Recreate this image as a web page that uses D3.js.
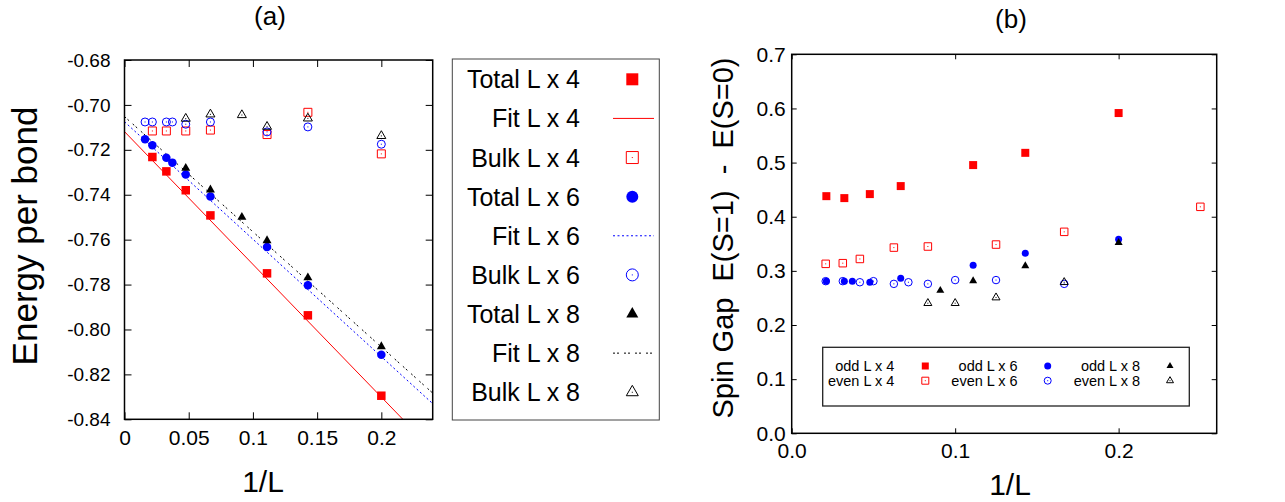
<!DOCTYPE html>
<html><head><meta charset="utf-8">
<script src="https://cdn.jsdelivr.net/npm/d3@7"></script>
<style>
body{margin:0;background:#fff;}
text{font-family:"Liberation Sans",Arial,Helvetica,sans-serif;fill:#000;}
</style></head><body>
<svg id="c" width="1285" height="502"></svg>
<script>
// ---------- Panel (a) data ----------
const aXTicks = [0, 0.05, 0.1, 0.15, 0.2];
const aXTickLabels = ["0", "0.05", "0.1", "0.15", "0.2"];
const aYTicks = [-0.68, -0.70, -0.72, -0.74, -0.76, -0.78, -0.80, -0.82, -0.84];
const aYTickLabels = ["-0.68", "-0.70", "-0.72", "-0.74", "-0.76", "-0.78", "-0.80", "-0.82", "-0.84"];

const total4X = [0.0217, 0.0326, 0.0477, 0.0669, 0.111, 0.1428, 0.2];
const total4Y = [-0.7232, -0.7296, -0.7380, -0.7492, -0.7750, -0.7937, -0.8295];
const total6X = [0.016, 0.0217, 0.0326, 0.0373, 0.0477, 0.0669, 0.111, 0.1428, 0.2];
const total6Y = [-0.7153, -0.7180, -0.7235, -0.7257, -0.7310, -0.7408, -0.7633, -0.7803, -0.8113];
const total8X = [0.0477, 0.0669, 0.0914, 0.111, 0.1428, 0.2];
const total8Y = [-0.7282, -0.7378, -0.7500, -0.7604, -0.7769, -0.8076];

const bulk4X = [0.0217, 0.0326, 0.0477, 0.0669, 0.111, 0.1428, 0.2];
const bulk4Y = [-0.7116, -0.7116, -0.7116, -0.7112, -0.7132, -0.7033, -0.7218];
const bulk6X = [0.016, 0.0217, 0.0326, 0.0373, 0.0477, 0.0669, 0.111, 0.1428, 0.2];
const bulk6Y = [-0.7076, -0.7076, -0.7076, -0.7076, -0.7086, -0.7076, -0.7120, -0.7098, -0.7175];
const bulk8X = [0.0477, 0.0669, 0.0914, 0.111, 0.1428, 0.2];
const bulk8Y = [-0.7061, -0.7042, -0.7045, -0.7097, -0.7060, -0.7138];

// linear fits E = a + b*(1/L) for L x 4, 6, 8
const fitIntercept = [-0.7119, -0.7075, -0.7052];
const fitSlope = [-0.591, -0.523, -0.513];

const aLegendLabels = ["Total L x 4", "Fit L x 4", "Bulk L x 4", "Total L x 6", "Fit L x 6", "Bulk L x 6", "Total L x 8", "Fit L x 8", "Bulk L x 8"];

// ---------- Panel (b) data ----------
const bXTicks = [0, 0.1, 0.2];
const bXTickLabels = ["0.0", "0.1", "0.2"];
const bYTicks = [0, 0.1, 0.2, 0.3, 0.4, 0.5, 0.6, 0.7];
const bYTickLabels = ["0.0", "0.1", "0.2", "0.3", "0.4", "0.5", "0.6", "0.7"];

const odd4X = [0.0212, 0.0322, 0.0478, 0.0667, 0.111, 0.1429, 0.2];
const odd4Y = [0.438, 0.4344, 0.4418, 0.4566, 0.4954, 0.518, 0.5915];
const even4X = [0.0208, 0.03125, 0.0417, 0.0625, 0.0833, 0.125, 0.1667, 0.25];
const even4Y = [0.313, 0.3142, 0.322, 0.343, 0.345, 0.3486, 0.3721, 0.4183];
const odd6X = [0.0212, 0.0322, 0.0371, 0.0478, 0.0667, 0.111, 0.1429, 0.2];
const odd6Y = [0.281, 0.281, 0.281, 0.279, 0.2865, 0.3105, 0.3327, 0.3586];
const even6X = [0.0208, 0.03125, 0.0417, 0.05, 0.0625, 0.0714, 0.0833, 0.1, 0.125, 0.1667];
const even6Y = [0.281, 0.281, 0.279, 0.281, 0.276, 0.279, 0.276, 0.283, 0.283, 0.276];
const odd8X = [0.0909, 0.111, 0.1429, 0.2];
const odd8Y = [0.2637, 0.2815, 0.3093, 0.352];
const even8X = [0.0833, 0.1, 0.125, 0.1667];
const even8Y = [0.2403, 0.2403, 0.2507, 0.279];

const bLegendLabels = [["odd L x 4", "odd L x 6", "odd L x 8"], ["even L x 4", "even L x 6", "even L x 8"]];

// ---------- drawing ----------
const RED = "#ff0000", BLUE = "#0000ff", BLACK = "#000000";
const svg = d3.select("#c");
svg.append("rect").attr("width", 1285).attr("height", 502).attr("fill", "#fff");

const symType = {square: d3.symbolSquare, circle: d3.symbolCircle, triangle: d3.symbolTriangle};
function marker(g, shape, cx, cy, s, color, filled) {
  let area;
  if (shape === "square") area = s * s;
  else if (shape === "circle") area = Math.PI * s * s / 4;
  else area = s * s * Math.sqrt(3) / 4;
  g.append("path")
    .attr("d", d3.symbol().type(symType[shape]).size(area)())
    .attr("transform", `translate(${cx},${cy})`)
    .attr("fill", filled ? color : "none")
    .attr("stroke", color)
    .attr("stroke-width", filled ? 0 : 1);
  if (!filled) {
    g.append("rect").attr("x", cx - 0.5).attr("y", cy - 0.5).attr("width", 1).attr("height", 1).attr("fill", color);
  }
}
function series(g, xs, ys, sx, sy, shape, s, color, filled) {
  xs.forEach((v, i) => marker(g, shape, sx(v), sy(ys[i]), s, color, filled));
}
function frameAxes(g, sx, sy, xt, xl, yt, yl, tick, xpad, ypad, xfs, yfs) {
  const [x0, x1] = sx.range(), [y0, y1] = sy.range();
  const fx = v => xl[xt.indexOf(v)];
  const fy = v => yl[yt.indexOf(v)];
  const bot = g.append("g").attr("transform", `translate(0,${y0})`)
    .call(d3.axisBottom(sx).tickValues(xt).tickFormat(fx).tickSize(-tick).tickPadding(xpad));
  bot.selectAll("text").attr("font-size", xfs).attr("font-family", '"Liberation Sans",Arial,sans-serif');
  const top = g.append("g").attr("transform", `translate(0,${y1})`)
    .call(d3.axisTop(sx).tickValues(xt).tickFormat("").tickSize(-tick));
  const left = g.append("g").attr("transform", `translate(${x0},0)`)
    .call(d3.axisLeft(sy).tickValues(yt).tickFormat(fy).tickSize(-tick).tickPadding(ypad));
  left.selectAll("text").attr("font-size", yfs).attr("font-family", '"Liberation Sans",Arial,sans-serif');
  const right = g.append("g").attr("transform", `translate(${x1},0)`)
    .call(d3.axisRight(sy).tickValues(yt).tickFormat("").tickSize(-tick));
  [bot, top, left, right].forEach(a => { a.select(".domain").remove(); a.selectAll("line").attr("stroke", "#000").attr("stroke-width", 1); });
  g.append("rect").attr("x", x0).attr("y", y1).attr("width", x1 - x0).attr("height", y0 - y1)
    .attr("fill", "none").attr("stroke", "#000").attr("stroke-width", 1.5);
}

// ===== Panel (a) =====
const ga = svg.append("g");
const xa = d3.scaleLinear().domain([0, 0.24]).range([124.5, 432.7]);
const ya = d3.scaleLinear().domain([-0.84, -0.68]).range([419.3, 60]);
ga.append("clipPath").attr("id", "clipA").append("rect")
  .attr("x", 124.5).attr("y", 60).attr("width", 432.7 - 124.5).attr("height", 419.3 - 60);

const fitColors = [RED, BLUE, BLACK];
const fitDash = [null, "2,2.5", "2,2,2,5"];
const fitG = ga.append("g").attr("clip-path", "url(#clipA)");
fitIntercept.forEach((a, i) => {
  const ends = xa.domain();
  fitG.append("path")
    .datum(ends.map(x => [x, a + fitSlope[i] * x]))
    .attr("d", d3.line().x(d => xa(d[0])).y(d => ya(d[1])))
    .attr("stroke", fitColors[i]).attr("stroke-width", 1).attr("fill", "none")
    .attr("stroke-dasharray", fitDash[i]);
});
const ptsA = ga.append("g");
series(ptsA, bulk4X, bulk4Y, xa, ya, "square", 8, RED, false);
series(ptsA, bulk6X, bulk6Y, xa, ya, "circle", 8, BLUE, false);
series(ptsA, bulk8X, bulk8Y, xa, ya, "triangle", 9, BLACK, false);
series(ptsA, total4X, total4Y, xa, ya, "square", 8.5, RED, true);
series(ptsA, total6X, total6Y, xa, ya, "circle", 8.5, BLUE, true);
series(ptsA, total8X, total8Y, xa, ya, "triangle", 9, BLACK, true);

frameAxes(ga, xa, ya, aXTicks, aXTickLabels, aYTicks, aYTickLabels, 7, 11, 14, 21, 19);

ga.append("text").attr("x", 270).attr("y", 25).attr("text-anchor", "middle").attr("font-size", 26).text("(a)");
ga.append("text").attr("transform", "translate(36.5,236) rotate(-90)").attr("text-anchor", "middle")
  .attr("font-size", 35).text("Energy per bond");
ga.append("text").attr("x", 263).attr("y", 492).attr("text-anchor", "middle").attr("font-size", 30).text("1/L");

// legend (a)
const la = svg.append("g");
la.append("rect").attr("x", 452.3).attr("y", 59).attr("width", 207).attr("height", 361)
  .attr("fill", "none").attr("stroke", "#444").attr("stroke-width", 1);
const legendA = [
  {t: "pt", shape: "square", c: RED, f: true, s: 12},
  {t: "ln", i: 0},
  {t: "pt", shape: "square", c: RED, f: false, s: 12},
  {t: "pt", shape: "circle", c: BLUE, f: true, s: 12},
  {t: "ln", i: 1},
  {t: "pt", shape: "circle", c: BLUE, f: false, s: 12},
  {t: "pt", shape: "triangle", c: BLACK, f: true, s: 12},
  {t: "ln", i: 2},
  {t: "pt", shape: "triangle", c: BLACK, f: false, s: 12}
];
aLegendLabels.forEach((lab, i) => {
  const cy = 79.3 + i * 39.12;
  la.append("text").attr("x", 580).attr("y", cy + 9).attr("text-anchor", "end").attr("font-size", 25).text(lab);
  const e = legendA[i];
  if (e.t === "pt") marker(la, e.shape, 632.3, cy, e.s, e.c, e.f);
  else la.append("line").attr("x1", 613).attr("x2", 654).attr("y1", cy).attr("y2", cy)
    .attr("stroke", fitColors[e.i]).attr("stroke-width", 1).attr("stroke-dasharray", fitDash[e.i]);
});

// ===== Panel (b) =====
const gb = svg.append("g");
const xb = d3.scaleLinear().domain([0, 0.26]).range([791.7, 1216.7]);
const yb = d3.scaleLinear().domain([0, 0.7]).range([433.3, 54.3]);
const ptsB = gb.append("g");
series(ptsB, odd4X, odd4Y, xb, yb, "square", 8, RED, true);
series(ptsB, even4X, even4Y, xb, yb, "square", 7.5, RED, false);
series(ptsB, even6X, even6Y, xb, yb, "circle", 7.5, BLUE, false);
series(ptsB, odd6X, odd6Y, xb, yb, "circle", 7, BLUE, true);
series(ptsB, even8X, even8Y, xb, yb, "triangle", 8, BLACK, false);
series(ptsB, odd8X, odd8Y, xb, yb, "triangle", 8, BLACK, true);

frameAxes(gb, xb, yb, bXTicks, bXTickLabels, bYTicks, bYTickLabels, 5, 10, 6, 21, 21);

gb.append("text").attr("x", 1011).attr("y", 27.5).attr("text-anchor", "middle").attr("font-size", 26).text("(b)");
gb.append("text").attr("transform", "translate(733,238) rotate(-90)").attr("text-anchor", "middle")
  .attr("font-size", 29).attr("xml:space", "preserve").style("white-space", "pre")
  .text("Spin Gap  E(S=1)  -  E(S=0)");
gb.append("text").attr("x", 1010).attr("y", 495).attr("text-anchor", "middle").attr("font-size", 30).text("1/L");

// legend (b)
const lb = svg.append("g");
lb.append("rect").attr("x", 822.7).attr("y", 347.3).attr("width", 366.6).attr("height", 58.7)
  .attr("fill", "none").attr("stroke", "#222").attr("stroke-width", 1.3);
const bTextX = [894.3, 1017.7, 1140];
const bMarkX = [925.3, 1047.7, 1170];
const bRowY = [366, 380.7];
const bShapes = [["square", RED], ["circle", BLUE], ["triangle", BLACK]];
bLegendLabels.forEach((row, r) => {
  row.forEach((lab, c) => {
    lb.append("text").attr("x", bTextX[c]).attr("y", bRowY[r] + 5).attr("text-anchor", "end")
      .attr("font-size", 14.5).text(lab);
    marker(lb, bShapes[c][0], bMarkX[c], bRowY[r], 7, bShapes[c][1], r === 0);
  });
});
</script>
</body></html>
